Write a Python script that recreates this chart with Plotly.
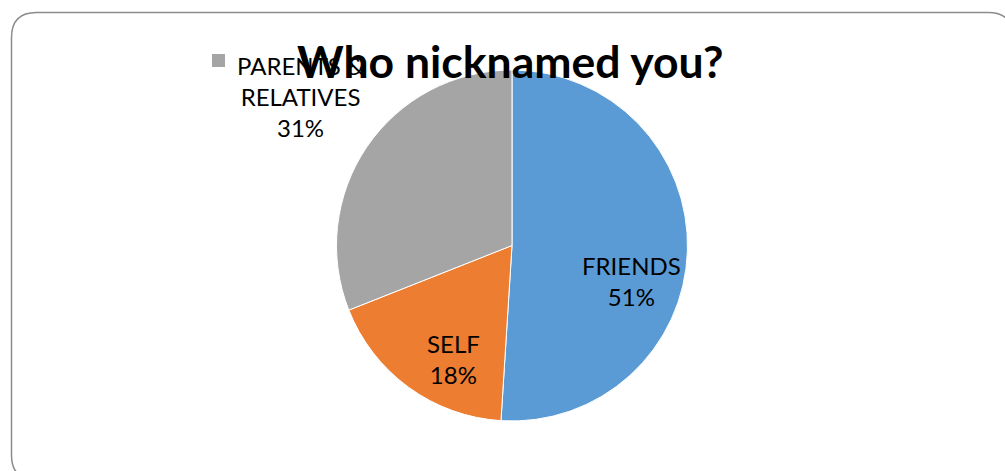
import plotly.graph_objects as go

# Survey answers: who gave the respondent their nickname
categories = ["FRIENDS", "SELF", "PARENTS &amp;<br>RELATIVES"]
shares = [51, 18, 31]
slice_colors = ["#5B9BD5", "#ED7D31", "#A5A5A5"]
title_text = "Who nicknamed you?"

W, H = 1005, 471


def px(x):
    return x / W


def py(y):
    return 1 - y / H


total = sum(shares)
pct = [round(100 * v / total) for v in shares]

fig = go.Figure(
    go.Pie(
        labels=categories,
        values=shares,
        sort=False,
        direction="clockwise",
        rotation=0,
        marker=dict(colors=slice_colors, line=dict(color="white", width=1)),
        textinfo="none",
        hoverinfo="label+percent",
        showlegend=False,
        domain=dict(x=[px(512 - 175.5), px(512 + 175.5)], y=[py(421), py(70)]),
    )
)

# data labels (label + share), placed like the spreadsheet's best-fit layout
label_font = dict(family="Lato, Carlito, sans-serif", size=24, color="black")
label_pos = [(631, 281), (453, 359), (300, 97)]
annotations = []
for name, p, (lx, ly) in zip(categories, pct, label_pos):
    annotations.append(
        dict(
            x=px(lx), y=py(ly), xref="paper", yref="paper",
            text=f"{name}<br>{p}%", showarrow=False,
            xanchor="center", yanchor="middle", align="center",
            font=label_font,
        )
    )

# chart title, drawn last so it sits over the outside label
annotations.append(
    dict(
        x=px(510), y=py(61), xref="paper", yref="paper",
        text=f"<b>{title_text}</b>", showarrow=False,
        xanchor="center", yanchor="middle",
        font=dict(family="Lato, Carlito, sans-serif", size=44.5, color="black"),
    )
)

# rounded chart-area frame
x0, y0, x1, y1, r = 11.5, 12.5, 1013, 480, 25
frame = (
    f"M {px(x0 + r)} {py(y0)} L {px(x1 - r)} {py(y0)} "
    f"Q {px(x1)} {py(y0)} {px(x1)} {py(y0 + r)} "
    f"L {px(x1)} {py(y1 - r)} Q {px(x1)} {py(y1)} {px(x1 - r)} {py(y1)} "
    f"L {px(x0 + r)} {py(y1)} Q {px(x0)} {py(y1)} {px(x0)} {py(y1 - r)} "
    f"L {px(x0)} {py(y0 + r)} Q {px(x0)} {py(y0)} {px(x0 + r)} {py(y0)} Z"
)
shapes = [
    dict(type="path", path=frame, xref="paper", yref="paper",
         line=dict(color="#8C8C8C", width=1.5), fillcolor="rgba(0,0,0,0)"),
    # legend key beside the outside label
    dict(type="rect", xref="paper", yref="paper",
         x0=px(212), x1=px(225), y0=py(67), y1=py(54),
         fillcolor=slice_colors[2], line=dict(width=0)),
]

fig.update_layout(
    width=W, height=H,
    margin=dict(l=0, r=0, t=0, b=0),
    paper_bgcolor="white",
    plot_bgcolor="white",
    annotations=annotations,
    shapes=shapes,
)

fig.write_html("out.html")
